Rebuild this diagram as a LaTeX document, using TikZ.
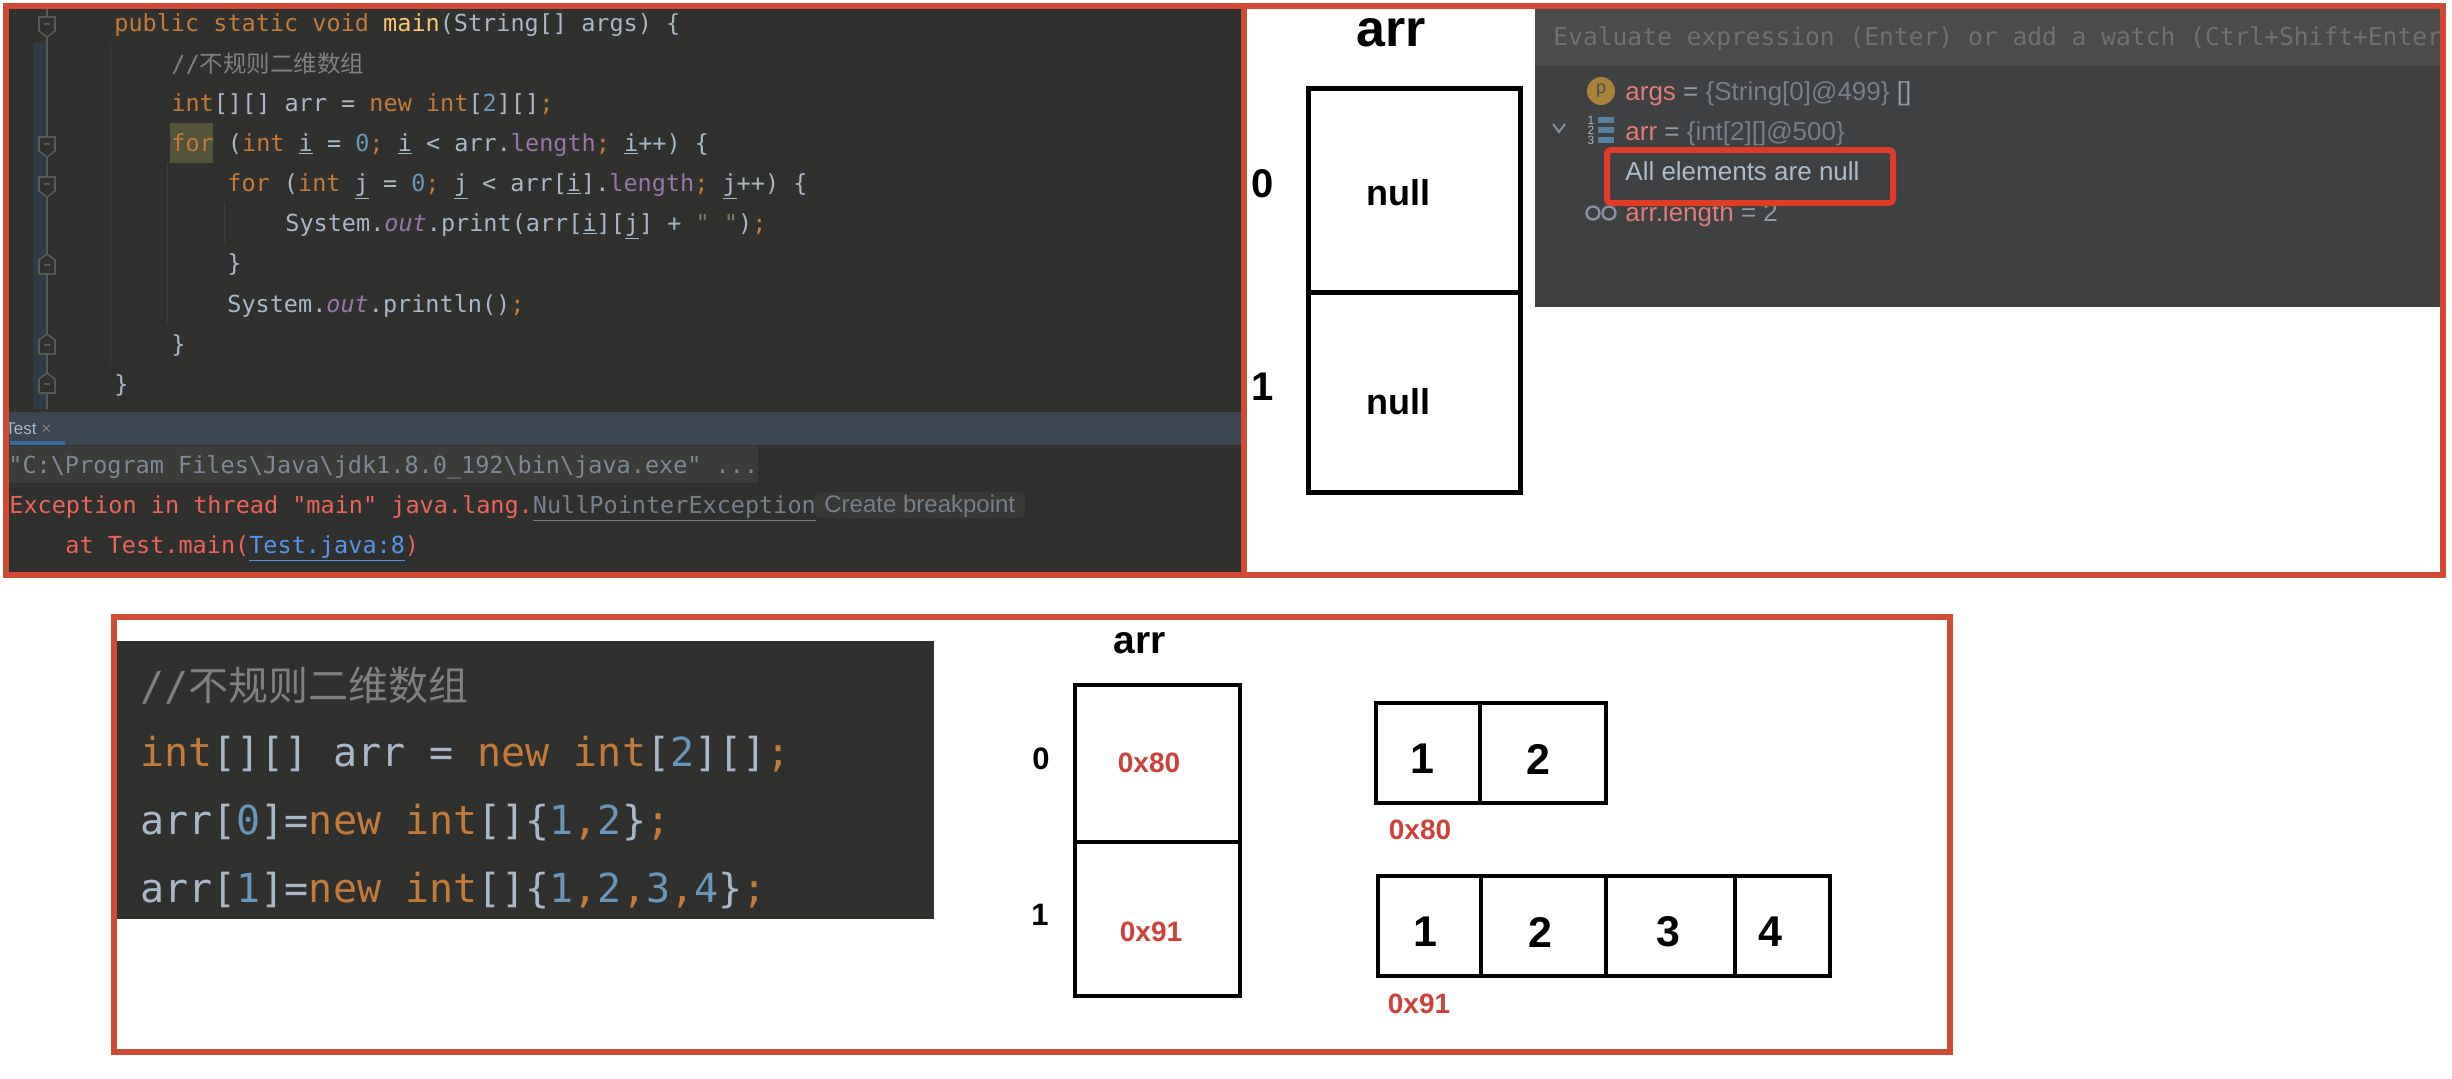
\documentclass[tikz,border=0pt]{standalone}
\usepackage{fontspec}
\usepackage{xcolor}
\setmainfont{Liberation Sans}
\setsansfont{Liberation Sans}
\setmonofont{DejaVu Sans Mono}
\newfontfamily\cjk{Noto Sans CJK SC}
\usetikzlibrary{positioning}
\definecolor{framecolor}{RGB}{210,74,51}
\definecolor{markcolor}{RGB}{224,60,40}
\definecolor{editorbg}{RGB}{48,48,46}
\definecolor{tabbg}{RGB}{60,70,80}
\definecolor{gutterbg}{RGB}{46,59,69}
\definecolor{runbg}{RGB}{59,59,58}
\definecolor{pillbg}{RGB}{56,56,55}
\definecolor{forbg}{RGB}{84,84,58}
\definecolor{guidecolor}{RGB}{62,62,60}
\definecolor{foldcolor}{RGB}{88,88,86}
\definecolor{debugbg}{RGB}{63,64,66}
\definecolor{watchbg}{RGB}{74,76,75}
\definecolor{plaincolor}{RGB}{169,183,198}
\definecolor{kwcolor}{RGB}{198,122,56}
\definecolor{numcolor}{RGB}{104,151,187}
\definecolor{fieldcolor}{RGB}{152,118,170}
\definecolor{methodcolor}{RGB}{255,198,109}
\definecolor{commentcolor}{RGB}{128,128,128}
\definecolor{stringcolor}{RGB}{106,135,89}
\definecolor{errcolor}{RGB}{236,100,90}
\definecolor{linkcolor}{RGB}{83,148,236}
\definecolor{addrcolor}{RGB}{208,64,58}
\definecolor{debugname}{RGB}{225,125,120}
\definecolor{hintcolor}{RGB}{112,114,113}
\definecolor{iconcolor}{RGB}{170,130,55}
\newcommand{\kw}[1]{\textcolor{kwcolor}{#1}}
\newcommand{\nm}[1]{\textcolor{numcolor}{#1}}
\newcommand{\fd}[1]{\textcolor{fieldcolor}{#1}}
\newcommand{\vr}[1]{\underline{#1}}

\begin{document}
\begin{tikzpicture}[
    x=0.5pt,
    y=-0.5pt,
    codeline/.style={anchor=base west, inner sep=0pt, font=\ttfamily\fontsize{11.75}{14}\selectfont, text=plaincolor},
    bigcode/.style={anchor=base west, inner sep=0pt, font=\ttfamily\fontsize{20}{24}\selectfont, text=plaincolor},
    debugline/.style={anchor=base west, inner sep=0pt, font=\fontsize{13}{15}\selectfont, text=plaincolor!85!black},
    cellbox/.style={rectangle, draw=black, line width=2.5pt, inner sep=0pt, outer sep=0pt},
    tallcell/.style={cellbox, line width=2pt, minimum width=82.5pt},
    smallcell/.style={cellbox, line width=1.8pt, minimum height=50pt},
    celltext/.style={inner sep=0pt, font=\bfseries\fontsize{21.5}{25}\selectfont},
    addrtext/.style={inner sep=0pt, font=\bfseries\fontsize{14}{17}\selectfont, text=addrcolor},
    indextext/.style={inner sep=0pt, font=\bfseries\fontsize{15.5}{18}\selectfont},
    redframe/.style={draw=framecolor, line width=2.8pt},
    foldline/.style={draw=foldcolor, fill=editorbg, line width=0.8pt},
    guide/.style={draw=guidecolor, line width=0.5pt}
]
\useasboundingbox (0,0) rectangle (2452,1078);

%% TOP LEFT - editor and console %%
\fill [editorbg] (6,6) rectangle (1244,575);
\fill [gutterbg] (33,43) rectangle (46,409);
\draw [foldcolor, line width=0.6pt] (47,8) -- (47,409);
\fill [tabbg] (8,412) rectangle (1243,445);
\fill [linkcolor!70!black] (10,441) rectangle (65,445);
\fill [runbg] (8,446) rectangle (758,483);
\fill [pillbg, rounded corners=3pt] (815,492) rectangle (1025,518);
\fill [forbg] (170,123) rectangle (213,163);

\draw [guide] (110,43) -- (110,363);
\draw [guide] (167,163) -- (167,323);
\draw [guide] (224,203) -- (224,243);

\foreach \fy in {24,144,184} {
    \draw [foldline] (39,\fy-7) -- (55,\fy-7) -- (55,\fy+7) -- (47,\fy+13) -- (39,\fy+7) -- cycle;
    \draw [foldcolor, line width=0.6pt] (44,\fy) -- (50,\fy);
}
\foreach \fy in {265,345,384} {
    \draw [foldline] (39,\fy+9) -- (55,\fy+9) -- (55,\fy-5) -- (47,\fy-11) -- (39,\fy-5) -- cycle;
    \draw [foldcolor, line width=0.6pt] (44,\fy) -- (50,\fy);
}

\node (linemain) [codeline] at (114,31) {\kw{public static void} \textcolor{methodcolor}{main}(String[] args) \{};
\node (linecomment) [codeline, text=commentcolor] at (171,72) {//{\cjk 不规则二维数组}};
\node (linedecl) [codeline] at (171,111) {\kw{int}[][] arr = \kw{new int}[\nm{2}][]\kw{;}};
\node (lineouter) [codeline] at (171,151) {\kw{for} (\kw{int} \vr{i} = \nm{0}\kw{;} \vr{i} < arr.\fd{length}\kw{;} \vr{i}++) \{};
\node (lineinner) [codeline] at (227,191) {\kw{for} (\kw{int} \vr{j} = \nm{0}\kw{;} \vr{j} < arr[\vr{i}].\fd{length}\kw{;} \vr{j}++) \{};
\node (lineprint) [codeline] at (285,231) {System.\fd{\itshape out}.print(arr[\vr{i}][\vr{j}] + \textcolor{stringcolor}{" "})\kw{;}};
\node (lineclosea) [codeline] at (227,271) {\}};
\node (lineprintln) [codeline] at (227,312) {System.\fd{\itshape out}.println()\kw{;}};
\node (lineclosec) [codeline] at (171,352) {\}};
\node (lineclosed) [codeline] at (114,392) {\}};

\node (tabname) [anchor=base west, inner sep=0pt, font=\fontsize{8.5}{10}\selectfont, text=plaincolor] at (5,434) {Test \textcolor{commentcolor}{×}};
\node (linejava) [codeline, text=plaincolor!75!black] at (8,473) {"C:\textbackslash Program Files\textbackslash Java\textbackslash jdk1.8.0\_192\textbackslash bin\textbackslash java.exe" ...};
\node (lineerror) [codeline, text=errcolor] at (9,513) {Exception in thread "main" java.lang.\textcolor{plaincolor!70!black}{\underline{NullPointerException}}};
\node (linepill) [debugline, font=\fontsize{12}{14}\selectfont, text=plaincolor!70!black] at (824,512) {Create breakpoint};
\node (lineat) [codeline, text=errcolor] at (65,553) {at Test.main(\textcolor{linkcolor}{\underline{Test.java:8}})};

%% TOP MIDDLE - arr with null cells %%
\node (toparr) [inner sep=0pt, font=\bfseries\fontsize{26}{30}\selectfont] at (1391,33) {arr};
\node (topzero) [cellbox, minimum width=106pt, minimum height=102pt] at (1414,190) {};
\node (topone) [cellbox, minimum width=106pt, minimum height=100pt] at (1414,392) {};
\node (nullzero) [inner sep=0pt, font=\bfseries\fontsize{18}{22}\selectfont, xshift=-8pt, yshift=-1.5pt] at (topzero) {null};
\node (nullone) [inner sep=0pt, font=\bfseries\fontsize{18}{22}\selectfont, xshift=-8pt, yshift=-5pt] at (topone) {null};
\node (topindexa) [inner sep=0pt, font=\bfseries\fontsize{20}{24}\selectfont] at (1263,184) {0};
\node (topindexb) [inner sep=0pt, font=\bfseries\fontsize{20}{24}\selectfont] at (1263,387) {1};

%% TOP RIGHT - debugger %%
\fill [debugbg] (1535,8) rectangle (2440,307);
\fill [watchbg] (1535,8) rectangle (2440,66);
\node (watchhint) [anchor=base west, inner sep=0pt, font=\ttfamily\fontsize{12.3}{15}\selectfont, text=hintcolor] at (1553,45) {Evaluate expression (Enter) or add a watch (Ctrl+Shift+Enter};
\node (iconargs) [circle, fill=iconcolor, minimum size=14pt, inner sep=0pt, font=\fontsize{9}{10}\selectfont, text=black!70] at (1601,91) {p};
\node (debugargs) [debugline] at (1625,100) {\textcolor{debugname}{args} = \textcolor{plaincolor!70!black}{\{String[0]@499\}} []};
\draw [plaincolor!80!black, line width=1pt] (1553,124) -- (1559,132) -- (1565,124);
\foreach \by/\nr in {120/1,130/2,140/3} {
    \fill [numcolor!85!black] (1598,\by-3) rectangle (1614,\by+3);
    \node (iconnr\nr) [inner sep=0pt, font=\fontsize{6}{7}\selectfont, text=plaincolor] at (1591,\by) {\nr};
}
\node (debugarr) [debugline] at (1625,140) {\textcolor{debugname}{arr} = \textcolor{plaincolor!70!black}{\{int[2][]@500\}}};
\node (debugnull) [debugline, text=plaincolor!95!white] at (1625,180) {All elements are null};
\draw [plaincolor!80!black, line width=1.2pt] (1593,213) circle (6.5) (1609,213) circle (6.5);
\node (debuglen) [debugline] at (1625,221) {\textcolor{debugname}{arr.length} = 2};
\draw [draw=markcolor, line width=3pt, rounded corners=2pt] (1607,150) rectangle (1893,203);

%% TOP FRAMES %%
\draw [redframe] (6,6) rectangle (2443,575);
\draw [redframe] (1244,6) -- (1244,575);

%% BOTTOM LEFT - code %%
\fill [editorbg] (117,641) rectangle (934,919);
\node (bigcomment) [bigcode, text=commentcolor] at (140,700) {//{\cjk 不规则二维数组}};
\node (bigdecl) [bigcode] at (140,766) {\kw{int}[][] arr = \kw{new int}[\nm{2}][]\kw{;}};
\node (bigzero) [bigcode] at (140,834) {arr[\nm{0}]=\kw{new int}[]\{\nm{1}\kw{,}\nm{2}\}\kw{;}};
\node (bigone) [bigcode] at (140,902) {arr[\nm{1}]=\kw{new int}[]\{\nm{1}\kw{,}\nm{2}\kw{,}\nm{3}\kw{,}\nm{4}\}\kw{;}};

%% BOTTOM MIDDLE - arr with addresses %%
\node (lowarr) [inner sep=0pt, font=\bfseries\fontsize{19.5}{23}\selectfont] at (1140,643) {arr};
\node (lowzero) [tallcell, minimum height=78.5pt] at (1157.5,763.5) {};
\node (lowone) [tallcell, minimum height=77pt] at (1157.5,919) {};
\node (addrzero) [addrtext] at (1149,763) {0x80};
\node (addrone) [addrtext] at (1151,932) {0x91};
\node (lowindexa) [indextext] at (1041,759) {0};
\node (lowindexb) [indextext] at (1040,915) {1};

%% BOTTOM RIGHT - the two arrays %%
\node (firsta) [smallcell, minimum width=52pt] at (1428,753) {};
\node (firstb) [smallcell, minimum width=63pt, right=0pt of firsta] {};
\node (valfa) [celltext] at (1422,759) {1};
\node (valfb) [celltext] at (1538,759) {2};
\node (addrfirst) [addrtext] at (1420,830) {0x80};

\node (seconda) [smallcell, minimum width=51.5pt] at (1429.5,926) {};
\node (secondb) [smallcell, minimum width=62.5pt, right=0pt of seconda] {};
\node (secondc) [smallcell, minimum width=64.5pt, right=0pt of secondb] {};
\node (secondd) [smallcell, minimum width=47.5pt, right=0pt of secondc] {};
\node (valsa) [celltext] at (1425,932) {1};
\node (valsb) [celltext] at (1540,932) {2};
\node (valsc) [celltext] at (1668,932) {3};
\node (valsd) [celltext] at (1770,932) {4};
\node (addrsecond) [addrtext] at (1419,1004) {0x91};

%% BOTTOM FRAME %%
\draw [redframe] (114,617) rectangle (1950,1052);

\end{tikzpicture}
\end{document}
